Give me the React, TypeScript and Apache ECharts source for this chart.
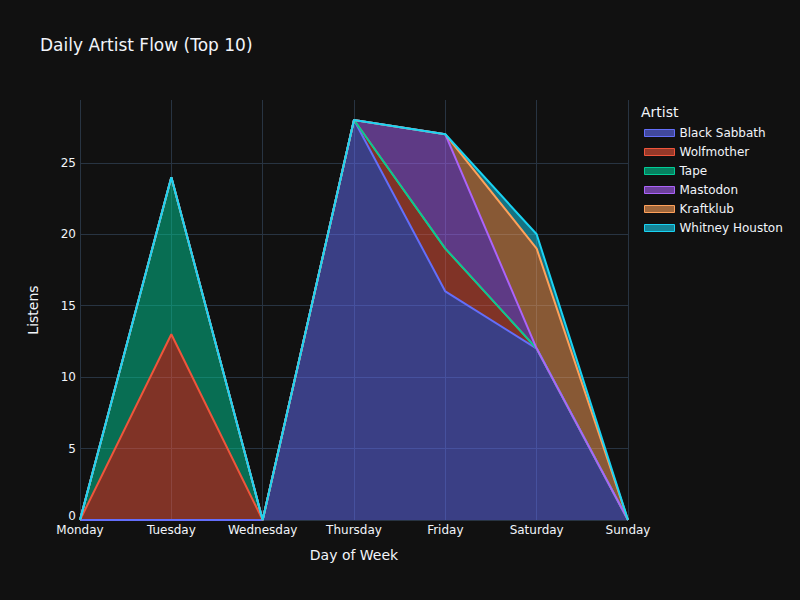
import React, { useEffect, useRef } from 'react'
import * as echarts from 'echarts'

const days = ['Monday', 'Tuesday', 'Wednesday', 'Thursday', 'Friday', 'Saturday', 'Sunday']
const artists = ['Black Sabbath', 'Wolfmother', 'Tape', 'Mastodon', 'Kraftklub', 'Whitney Houston']
const colors = ['#636efa', '#EF553B', '#00cc96', '#ab63fa', '#FFA15A', '#19d3f3']

const blackSabbath = [0, 0, 0, 28, 16, 12, 0]
const wolfmother = [0, 13, 0, 0, 3, 0, 0]
const tape = [0, 11, 0, 0, 0, 0, 0]
const mastodon = [0, 0, 0, 0, 8, 0, 0]
const kraftklub = [0, 0, 0, 0, 0, 7, 0]
const whitneyHouston = [0, 0, 0, 0, 0, 1, 0]

const values = [blackSabbath, wolfmother, tape, mastodon, kraftklub, whitneyHouston]

const font = 'DejaVu Sans'
const textColor = '#f2f5fa'
const gridColor = '#283442'

// legend swatch: half-transparent fill with the line colour as border
const fade = (hex: string) => {
  const n = parseInt(hex.slice(1), 16)
  return `rgba(${(n >> 16) & 255},${(n >> 8) & 255},${n & 255},0.6)`
}

export default function App() {
  const ref = useRef<HTMLDivElement | null>(null)

  useEffect(() => {
    if (!ref.current) return
    const chart = echarts.init(ref.current, null, { renderer: 'svg' })

    const opt: echarts.EChartsOption = {
      animation: false,
      backgroundColor: '#111111',
      textStyle: { fontFamily: font },
      title: [
        {
          text: 'Daily Artist Flow (Top 10)',
          left: 40, top: 36, padding: 0,
          textStyle: { color: textColor, fontSize: 17, fontWeight: 'normal', fontFamily: font }
        },
        {
          text: 'Artist',
          left: 641, top: 105, padding: 0,
          textStyle: { color: textColor, fontSize: 14, fontWeight: 'normal', fontFamily: font }
        }
      ],
      legend: {
        orient: 'vertical',
        left: 644, top: 126, padding: 0,
        icon: 'rect',
        itemWidth: 30, itemHeight: 7,
        itemGap: 5,
        textStyle: { color: textColor, fontSize: 12, fontFamily: font, lineHeight: 14 },
        data: artists.map((name, i) => ({
          name,
          itemStyle: { color: fade(colors[i]), borderColor: colors[i], borderWidth: 1 }
        }))
      },
      grid: { left: 80, right: 172, top: 100, bottom: 80 },
      xAxis: {
        type: 'category',
        data: days,
        boundaryGap: false,
        name: 'Day of Week',
        nameLocation: 'middle',
        nameGap: 28,
        nameTextStyle: { color: textColor, fontSize: 14, fontFamily: font },
        axisLine: { show: false },
        axisTick: { show: false },
        axisLabel: { color: textColor, fontSize: 12, fontFamily: font, margin: 4 },
        splitLine: { show: true, lineStyle: { color: gridColor, width: 1 } }
      },
      yAxis: {
        type: 'value',
        min: 0,
        max: 29.4,
        interval: 5,
        name: 'Listens',
        nameLocation: 'middle',
        nameGap: 40,
        nameTextStyle: { color: textColor, fontSize: 14, fontFamily: font },
        axisLine: { show: false },
        axisTick: { show: false },
        axisLabel: {
          color: textColor, fontSize: 12, fontFamily: font, margin: 4,
          formatter: (v: number) => (v === 0 ? '{z|0}' : v % 5 === 0 ? String(v) : ''),
          rich: { z: { color: textColor, fontSize: 12, fontFamily: font, padding: [0, 0, 9, 0] } }
        },
        splitLine: {
          show: true,
          lineStyle: {
            color: [gridColor, gridColor, gridColor, gridColor, gridColor, gridColor, 'rgba(0,0,0,0)'],
            width: 1
          }
        }
      },
      series: artists.map((name, i) => ({
        name,
        type: 'line',
        stack: 'total',
        data: values[i],
        symbol: 'none',
        color: colors[i],
        lineStyle: { width: 2, color: colors[i] },
        areaStyle: { color: colors[i], opacity: 0.5 },
        itemStyle: { color: colors[i] }
      }))
    }

    chart.setOption(opt)
    return () => { chart.dispose() }
  }, [])

  return <div ref={ref} style={{ position: 'fixed', left: 0, top: 0, width: 800, height: 600 }} />
}
